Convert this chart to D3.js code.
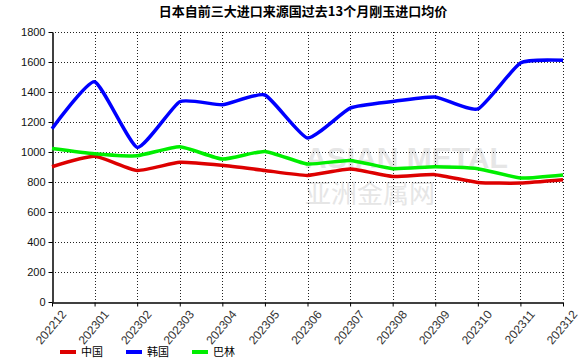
<!DOCTYPE html>
<html>
<head>
<meta charset="utf-8">
<script src="https://cdn.jsdelivr.net/npm/d3@7"></script>
<style>
  body { margin: 0; background: #fff; }
  svg { display: block; font-family: "Liberation Sans", Arial, sans-serif; }
</style>
</head>
<body>
<script>
'use strict';

let WIDTH = 580;
let HEIGHT = 363;
let margin = {top: 32, right: 17, bottom: 61, left: 52};

let months = ['202212', '202301', '202302', '202303', '202304', '202305', '202306',
    '202307', '202308', '202309', '202310', '202311', '202312'];
let china = [902, 971, 877, 931, 911, 877, 844, 887, 837, 849, 797, 793, 815];
let korea = [1155, 1468, 1031, 1335, 1315, 1380, 1093, 1293, 1337, 1367, 1287, 1593, 1611];
let bahrain = [1024, 989, 975, 1035, 953, 1004, 920, 944, 889, 902, 889, 827, 847];
let yTicks = [0, 200, 400, 600, 800, 1000, 1200, 1400, 1600, 1800];

let series = [
    {name: '中国', values: china, color: '#dd0000'},
    {name: '韩国', values: korea, color: '#0000ff'},
    {name: '巴林', values: bahrain, color: '#00ee00'}
];

let svg = d3.select('body').append('svg')
    .attr('width', WIDTH)
    .attr('height', HEIGHT);

let x = d3.scalePoint()
    .domain(months)
    .range([margin.left, WIDTH - margin.right]);

let y = d3.scaleLinear()
    .domain([0, 1800])
    .range([HEIGHT - margin.bottom, margin.top]);

// title
svg.append('text')
    .attr('x', 303)
    .attr('y', 16)
    .attr('text-anchor', 'middle')
    .style('font-size', '13px')
    .style('font-weight', 'bold')
    .style('font-family', '"Noto Sans CJK SC", sans-serif')
    .text('日本自前三大进口来源国过去13个月刚玉进口均价');

// watermark
let wm = svg.append('g').attr('fill', '#e6e6e6');
wm.append('text')
    .attr('x', 305).attr('y', 168)
    .style('font-size', '30px').style('font-weight', 'bold')
    .text('ASIAN METAL');
wm.append('text')
    .attr('x', 305).attr('y', 203)
    .style('font-size', '26px')
    .style('font-family', '"Noto Sans CJK SC", sans-serif')
    .text('亚洲金属网');

// grid
let grid = svg.append('g')
    .attr('stroke', '#222')
    .attr('stroke-width', 1)
    .attr('stroke-dasharray', '1,2');

grid.selectAll('line.h')
    .data(yTicks.filter((d) => d > 0))
    .enter()
    .append('line')
    .attr('x1', margin.left)
    .attr('x2', WIDTH - margin.right)
    .attr('y1', (d) => Math.round(y(d)) + 0.5)
    .attr('y2', (d) => Math.round(y(d)) + 0.5);

grid.selectAll('line.v')
    .data(months.slice(1))
    .enter()
    .append('line')
    .attr('x1', (d) => Math.round(x(d)) + 0.5)
    .attr('x2', (d) => Math.round(x(d)) + 0.5)
    .attr('y1', margin.top)
    .attr('y2', HEIGHT - margin.bottom);

// axes
let xAxis = svg.append('g')
    .attr('transform', 'translate(0,' + (Math.round(y(0)) + 0.5) + ')')
    .call(d3.axisBottom(x).tickSize(4).tickSizeOuter(0));
xAxis.select('.domain').attr('stroke', '#000').attr('stroke-width', 1.5);
xAxis.selectAll('.tick line').attr('stroke', '#000');
xAxis.selectAll('.tick text')
    .attr('fill', '#333')
    .style('font-size', '12px')
    .attr('text-anchor', 'end')
    .attr('transform', 'translate(6,5) rotate(-50)')
    .attr('dy', '0.35em');

let yAxis = svg.append('g')
    .attr('transform', 'translate(' + (margin.left + 0.5) + ',0)')
    .call(d3.axisLeft(y).tickValues(yTicks).tickFormat(d3.format('d')).tickSize(4).tickSizeOuter(0));
yAxis.select('.domain').attr('stroke', '#000').attr('stroke-width', 1.5);
yAxis.selectAll('.tick line').attr('stroke', '#000');
yAxis.selectAll('.tick text')
    .attr('fill', '#111')
    .style('font-size', '11px');

// lines
let line = d3.line()
    .curve(d3.curveCardinal.tension(0.5))
    .x((d, i) => x(months[i]))
    .y((d) => y(d));

svg.selectAll('path.series')
    .data(series)
    .enter()
    .append('path')
    .attr('class', 'series')
    .attr('fill', 'none')
    .attr('stroke', (s) => s.color)
    .attr('stroke-width', 3.5)
    .attr('stroke-linejoin', 'round')
    .attr('d', (s) => line(s.values));

// legend
let legend = svg.selectAll('g.legend')
    .data(series)
    .enter()
    .append('g')
    .attr('class', 'legend')
    .attr('transform', (s, i) => 'translate(' + (60 + i * 66) + ',352)');

legend.append('line')
    .attr('x1', 0).attr('x2', 16)
    .attr('stroke', (s) => s.color)
    .attr('stroke-width', 4);

legend.append('text')
    .attr('x', 21)
    .attr('dy', '0.35em')
    .style('font-size', '11px')
    .style('font-family', '"Noto Sans CJK SC", sans-serif')
    .text((s) => s.name);
</script>
</body>
</html>
